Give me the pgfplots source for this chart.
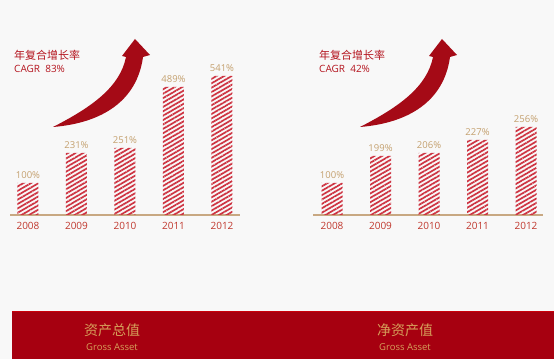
\documentclass[border=0pt]{standalone}
\usepackage{pgfplots}
\pgfplotsset{compat=1.18}
\usepackage{pgfplotstable}
\usetikzlibrary{patterns.meta}
\usepackage{fontspec}
\setmainfont{Open Sans}
\newfontfamily\cjk{Noto Sans CJK SC}
\definecolor{bgc}{RGB}{248,248,248}
\definecolor{barred}{RGB}{206,52,66}
\definecolor{valtan}{RGB}{196,160,110}
\definecolor{yearred}{RGB}{192,55,45}
\definecolor{titlered}{RGB}{180,20,30}
\definecolor{arrowred}{RGB}{165,10,22}
\definecolor{bannerred}{RGB}{166,0,16}
\definecolor{bannertxt}{RGB}{214,160,90}
\definecolor{basec}{RGB}{200,168,130}

\pgfplotstableread{
x h lab
0 32 100
1 62 231
2 67 251
3 128 489
4 139 541
}\gross
\pgfplotstableread{
x h lab
0 32 100
1 59 199
2 62 206
3 75 227
4 88 256
}\net

\pgfplotsset{
  mybars/.style={
    anchor=south west,
    x=48.5pt, y=1pt,
    ymin=0, ymax=150,
    axis x line=bottom, axis y line=none,
    x axis line style={-, draw=basec, line width=1.6pt},
    xtick={0,1,2,3,4},
    xticklabels={2008,2009,2010,2011,2012},
    major tick length=0pt,
    xticklabel style={font=\fontsize{10}{12}\selectfont, text=yearred, yshift=-3.5pt},
    /pgf/number format/assume math mode=true,
    clip=false,
    point meta=explicit,
    nodes near coords={\pgfmathprintnumber{\pgfplotspointmeta}\%},
    nodes near coords style={font=\fontsize{9.5}{11}\selectfont, text=valtan, yshift=1pt},
  },
  mybar/.style={
    ybar, bar width=21pt, draw=none,
    pattern={Lines[angle=30,distance=3.8pt,line width=1.7pt]},
    pattern color=barred,
  },
}

\newcommand{\arrowshape}[1]{%
  \fill[arrowred, shift={(#1,0)}] (53,232) .. controls (92,252) and (120,272) .. (126,302)
    -- (122,303) -- (135,320) -- (150,304) -- (143,302)
    .. controls (137,258) and (102,236) .. (53,232) -- cycle;}

\begin{document}
\begin{tikzpicture}[x=1pt,y=1pt]
  \fill[bgc] (0,0) rectangle (554,359);
  \useasboundingbox (0,0) rectangle (554,359);

  % banner
  \fill[bannerred] (12,0) rectangle (554,48);
  \draw[red!40!bannerred, line width=0.8pt] (12,48) -- (554,48);
  \node[text=bannertxt, font=\cjk\fontsize{14}{16}\selectfont] at (112,29) {资产总值};
  \node[text=bannertxt, font=\fontsize{9.5}{11}\selectfont] at (112,12) {Gross Asset};
  \node[text=bannertxt, font=\cjk\fontsize{14}{16}\selectfont] at (405,29) {净资产值};
  \node[text=bannertxt, font=\fontsize{9.5}{11}\selectfont] at (405,12) {Gross Asset};

  % arrows
  \arrowshape{0}
  \arrowshape{307}

  % titles
  \node[anchor=west, text=titlered, font=\cjk\fontsize{11}{13}\selectfont, inner sep=0] at (14,304) {年复合增长率};
  \node[anchor=west, text=titlered, font=\fontsize{10}{12}\selectfont, inner sep=0] at (14,290) {CAGR\ \ 83\%};
  \node[anchor=west, text=titlered, font=\cjk\fontsize{11}{13}\selectfont, inner sep=0] at (319,304) {年复合增长率};
  \node[anchor=west, text=titlered, font=\fontsize{10}{12}\selectfont, inner sep=0] at (319,290) {CAGR\ \ 42\%};

  \begin{axis}[mybars, at={(10pt,144pt)}, xmin=-0.371, xmax=4.371]
    \addplot[mybar] table[x=x, y=h, meta=lab] {\gross};
  \end{axis}
  \begin{axis}[mybars, at={(313pt,144pt)}, xmin=-0.392, xmax=4.35]
    \addplot[mybar] table[x=x, y=h, meta=lab] {\net};
  \end{axis}
\end{tikzpicture}
\end{document}
